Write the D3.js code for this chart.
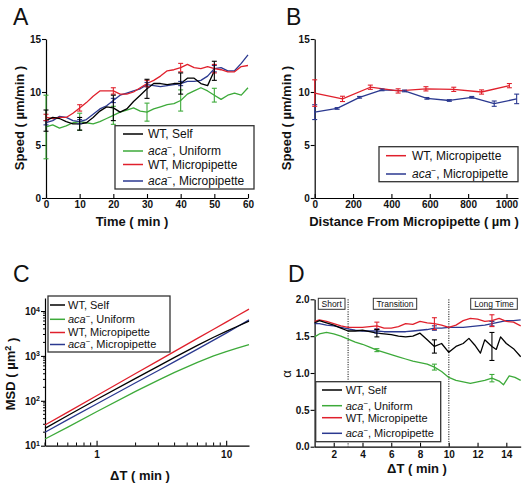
<!DOCTYPE html>
<html><head><meta charset="utf-8">
<script src="https://cdn.jsdelivr.net/npm/d3@7"></script>
<style>
body{margin:0;background:#fff;}
text{font-family:Arial,"Liberation Sans",Helvetica,sans-serif;}
</style></head>
<body>
<script>
// ---------------- DATA ----------------
const colors = {self:"#000000", uniform:"#3daa3a", wtMicro:"#e0202c", acaMicro:"#2b3990"};
const legendLabels = ["WT, Self","aca−, Uniform","WT, Micropipette","aca−, Micropipette"];

// Panel A: speed vs time
const timeAll = [0,2,4,6,8,10,12,14,16,18,20,22,24,26,28,30,32,34,36,38,40,42,44,46,48,50,52,54,56,58,60];
const timeSelf = [0,2,4,6,8,10,12,14,16,18,20,22,24,26,28,30,32,34,36,38,40,42,44,46,48,50];
const speedSelf = [7.3,7.6,7.5,7.2,7.0,7.0,7.1,7.6,8.2,8.6,8.5,8.1,8.4,9.1,9.7,10.3,10.8,10.8,10.7,10.8,10.8,11.3,11.3,10.8,10.6,12.0];
const speedUniform = [6.7,6.9,6.6,6.8,7.1,7.2,7.1,7.0,7.2,7.5,7.8,8.1,8.3,8.5,8.2,8.1,8.4,8.6,8.8,8.9,9.2,9.8,10.1,10.4,10.1,9.7,9.3,9.7,9.9,9.7,10.4];
const speedWTMicro = [7.6,7.5,7.6,7.6,8.0,8.5,9.0,9.6,10.1,10.1,10.1,9.8,9.8,10.0,10.4,10.8,11.1,11.5,12.0,12.1,12.3,12.6,12.3,12.2,12.4,12.2,12.1,11.9,11.9,12.4,12.5];
const speedAcaMicro = [7.1,7.3,7.7,7.6,7.3,7.2,7.4,7.9,8.4,8.7,9.2,9.7,9.9,10.1,10.3,10.7,10.6,10.5,10.6,10.7,10.8,11.0,11.0,11.1,11.5,12.2,12.3,12.0,12.0,12.7,13.5];
const errTimes = [0,10,20,30,40,50];
const errSelfA = [1.0,0.6,1.2,0.9,1.0,0.9];
const errUniformA = [3.0,0.8,0.85,0.85,1.0,0.65];
const errWTMicroA = [0.3,0.3,0.3,0.3,0.4,0.4];
const errAcaMicroA = [0.2,0.2,0.2,0.2,0.2,0.3];
const ticksA_x = [0,10,20,30,40,50,60];
const ticksA_y = [0,5,10,15];

// Panel B: speed vs distance
const distWT = [0,145,290,435,580,725,870,1015];
const speedDistWT = [9.9,9.35,10.45,10.1,10.3,10.25,10.0,10.6];
const errDistWT = [1.25,0.25,0.2,0.2,0.2,0.2,0.2,0.2];
const distAca = [0,117,234,351,468,585,702,819,936,1053];
const speedDistAca = [8.1,8.45,9.5,10.2,10.1,9.4,9.2,9.5,8.9,9.35];
const errDistAca = [0.7,0.08,0.08,0.08,0.08,0.08,0.08,0.08,0.25,0.45];
const ticksB_x = [0,200,400,600,800,1000];

// Panel C: MSD vs dT
const dtC = [0.4,0.6,1,2,3,4,6,8,10,12,15];
const msdSelf = [24.4,47.1,107,317,594,925,1714,2600,3516,4460,5960];
const msdUniform = [14.1,26,57,162,289,428,716,998,1247,1469,1795];
const msdWTMicro = [28.9,56,130,405,787,1262,2455,3935,5675,7650,11000];
const msdAcaMicro = [19.9,38,85,252,474,745,1419,2249,3228,4355,6340];
const ticksC_y = [1,2,3,4];
const ticksC_x = [1,10];

// Panel D: alpha vs dT
const dtD = [0.67,1,1.5,2,2.5,3,3.5,4,4.5,5,5.5,6,6.5,7,7.5,8,8.5,9,9.5,10,10.5,11,11.5,12,12.5,13,13.5,14,14.5,15];
const alphaWTMicro = [1.70,1.72,1.70,1.67,1.64,1.62,1.62,1.62,1.63,1.64,1.61,1.61,1.63,1.67,1.66,1.70,1.68,1.67,1.65,1.62,1.65,1.71,1.74,1.73,1.70,1.71,1.74,1.70,1.69,1.64];
const alphaAcaMicro = [1.67,1.67,1.65,1.64,1.62,1.60,1.58,1.57,1.57,1.57,1.56,1.56,1.56,1.56,1.57,1.58,1.59,1.61,1.61,1.62,1.62,1.62,1.63,1.64,1.65,1.67,1.69,1.71,1.71,1.72];
const dtSelfD = [0.67,1,1.5,2,2.5,3,3.5,4,4.5,5,5.5,6,6.5,7,7.5,8,8.5,9,9.5,10,10.5,11,11.4,11.8,12.2,12.5,13,13.3,13.6,14,14.5,15];
const alphaSelf = [1.68,1.71,1.68,1.65,1.61,1.57,1.57,1.58,1.56,1.54,1.53,1.52,1.50,1.49,1.50,1.54,1.45,1.36,1.40,1.28,1.36,1.40,1.47,1.38,1.27,1.45,1.36,1.32,1.49,1.40,1.33,1.22];
const dtUniformD = [0.67,1,1.5,2,2.5,3,3.5,4,4.5,5,5.5,6,6.5,7,7.5,8,8.5,9,9.5,10,10.5,11,11.5,12,12.5,13,13.5,13.8,14.2,14.6,15];
const alphaUniform = [1.49,1.53,1.55,1.53,1.50,1.46,1.42,1.39,1.35,1.31,1.28,1.25,1.22,1.19,1.16,1.14,1.12,1.08,1.02,0.94,0.90,0.88,0.86,0.88,0.90,0.93,0.89,0.84,0.96,0.94,0.90];
const errDtD = [5,9,13];
const errSelfD = [0.05,0.09,0.19];
const errUniformD = [0.02,0.04,0.05];
const errWTMicroD = [0.05,0.08,0.08];
const errAcaMicroD = [0.03,0.03,0.03];
const regimeLines = [3,10];
const regimeLabels = ["Short","Transition","Long Time"];
const ticksD_x = [2,4,6,8,10,12,14];
const ticksD_y = [0,0.5,1.0,1.5,2.0];

// ---------------- DRAW ----------------
const svg = d3.select("body").append("svg").attr("width",527).attr("height",488);

function styleAxis(g){
  g.selectAll("path.domain").attr("stroke","#000").attr("stroke-width",1.2);
  g.selectAll(".tick line").attr("stroke","#000").attr("stroke-width",1.1);
  g.selectAll(".tick text").attr("font-size","10px").attr("font-weight","bold").attr("fill","#111");
}
function drawLine(xs, ys, x, y, color){
  const pts = xs.map((d,i)=>[d,ys[i]]);
  svg.append("path").datum(pts)
    .attr("fill","none").attr("stroke",color).attr("stroke-width",1.3).attr("stroke-linejoin","round")
    .attr("d", d3.line().x(d=>x(d[0])).y(d=>y(d[1])));
}
function drawErr(ex, xs, ys, errs, x, y, color, cap){
  ex.forEach((t,i)=>{
    let best=0; xs.forEach((d,j)=>{ if(Math.abs(d-t)<Math.abs(xs[best]-t)) best=j; });
    const v = ys[best];
    const e = errs[i];
    const g = svg.append("g").attr("stroke",color).attr("stroke-width",1.1);
    g.append("line").attr("x1",x(t)).attr("x2",x(t)).attr("y1",y(v-e)).attr("y2",y(v+e));
    g.append("line").attr("x1",x(t)-cap).attr("x2",x(t)+cap).attr("y1",y(v-e)).attr("y2",y(v-e));
    g.append("line").attr("x1",x(t)-cap).attr("x2",x(t)+cap).attr("y1",y(v+e)).attr("y2",y(v+e));
  });
}
function addLabelText(sel, label){
  if(label.startsWith("aca−")){
    sel.append("tspan").attr("font-style","italic").text("aca");
    sel.append("tspan").attr("baseline-shift","super").attr("font-size","0.7em").text("−");
    sel.append("tspan").text(label.slice(4));
  } else sel.text(label);
}
function legend(box, rows, items, lx1, lx2, tx, fs){
  svg.append("rect").attr("x",box[0]).attr("y",box[1]).attr("width",box[2]-box[0]).attr("height",box[3]-box[1])
    .attr("fill","#fff").attr("stroke","#333").attr("stroke-width",1.3);
  items.forEach((it,i)=>{
    svg.append("line").attr("x1",lx1).attr("x2",lx2).attr("y1",rows[i]).attr("y2",rows[i])
      .attr("stroke",it.color).attr("stroke-width",1.5);
    const t = svg.append("text").attr("x",tx).attr("y",rows[i]).attr("dy","0.35em").attr("font-size",fs+"px").attr("fill","#111");
    addLabelText(t, it.label);
  });
}
function panelLetter(s,x,y){
  svg.append("text").attr("x",x).attr("y",y).attr("font-size","23px").attr("fill","#111").text(s);
}
function axisTitle(txt,x,y,rot,fs,bold){
  const t = svg.append("text").attr("x",x).attr("y",y).attr("text-anchor","middle")
    .attr("font-size",fs+"px").attr("font-weight",bold?"bold":"normal").attr("fill","#111");
  if(txt) t.text(txt);
  if(rot) t.attr("transform",`rotate(-90,${x},${y})`);
  return t;
}

// ----- Panel A -----
const xA = d3.scaleLinear().domain([0,60]).range([46,248]);
const yA = d3.scaleLinear().domain([0,15]).range([198,39]);
styleAxis(svg.append("g").attr("transform","translate(46,0)")
  .call(d3.axisLeft(yA).tickValues(ticksA_y).tickSizeInner(4).tickSizeOuter(0).tickPadding(1)));
styleAxis(svg.append("g").attr("transform","translate(0,198)")
  .call(d3.axisBottom(xA).tickValues(ticksA_x).tickSizeInner(-4).tickSizeOuter(0).tickPadding(3)));
drawLine(timeAll, speedUniform, xA, yA, colors.uniform);
drawLine(timeAll, speedAcaMicro, xA, yA, colors.acaMicro);
drawLine(timeAll, speedWTMicro, xA, yA, colors.wtMicro);
drawLine(timeSelf, speedSelf, xA, yA, colors.self);
drawErr(errTimes, timeAll, speedUniform, errUniformA, xA, yA, colors.uniform, 2.5);
drawErr(errTimes, timeAll, speedAcaMicro, errAcaMicroA, xA, yA, colors.acaMicro, 2.5);
drawErr(errTimes, timeAll, speedWTMicro, errWTMicroA, xA, yA, colors.wtMicro, 2.5);
drawErr(errTimes, timeSelf, speedSelf, errSelfA, xA, yA, colors.self, 2.5);
legend([115,125.7,254,189],[134,151,164.5,181],
  legendLabels.map((l,i)=>({label:l,color:[colors.self,colors.uniform,colors.wtMicro,colors.acaMicro][i]})),
  123,143,148,12);
panelLetter("A",13,25);
axisTitle("Speed ( µm/min )",24,118,true,13,true);
axisTitle("Time ( min )",132,226,false,13,true);

// ----- Panel B -----
const xB = d3.scaleLinear().domain([0,1060]).range([314.7,518]);
const yB = d3.scaleLinear().domain([0,15]).range([198,39]);
styleAxis(svg.append("g").attr("transform","translate(314.7,0)")
  .call(d3.axisLeft(yB).tickValues(ticksA_y).tickSizeInner(4).tickSizeOuter(0).tickPadding(1)));
styleAxis(svg.append("g").attr("transform","translate(0,198)")
  .call(d3.axisBottom(xB).tickValues(ticksB_x).tickSizeInner(-4).tickSizeOuter(0).tickPadding(3).tickFormat(d3.format("d"))));
drawLine(distAca, speedDistAca, xB, yB, colors.acaMicro);
drawLine(distWT, speedDistWT, xB, yB, colors.wtMicro);
drawErr(distAca, distAca, speedDistAca, errDistAca, xB, yB, colors.acaMicro, 2.5);
drawErr(distWT, distWT, speedDistWT, errDistWT, xB, yB, colors.wtMicro, 2.5);
legend([379,146.7,518,181.7],[155.7,174],
  [{label:legendLabels[2],color:colors.wtMicro},{label:legendLabels[3],color:colors.acaMicro}],
  386,406,412,12);
panelLetter("B",286,25);
axisTitle("Speed ( µm/min )",291,118,true,13,true);
axisTitle("Distance From Micropipette ( µm )",414,226,false,13,true);

// ----- Panel C -----
const xC = d3.scaleLog().domain([0.4,15]).range([45,249]);
const yC = d3.scaleLog().domain([10,19500]).range([445.7,298]);
const yCaxis = svg.append("g").attr("transform","translate(45,0)")
  .call(d3.axisLeft(yC).tickValues(ticksC_y.map(e=>Math.pow(10,e))).tickSizeInner(4).tickSizeOuter(0).tickPadding(1).tickFormat(()=>""));
styleAxis(yCaxis);
yCaxis.selectAll(".tick text").each(function(d){
  const t = d3.select(this);
  t.text(null);
  t.append("tspan").text("10");
  t.append("tspan").attr("dy","-0.45em").attr("font-size","7px").text(Math.round(Math.log10(d)));
});
const minorY = [];
[10,100,1000,10000].forEach(b=>{ for(let k=2;k<=9;k++){ const v=b*k; if(v<=19500) minorY.push(v);} });
minorY.forEach(v=>svg.append("line").attr("x1",43).attr("x2",45).attr("y1",yC(v)).attr("y2",yC(v)).attr("stroke","#000").attr("stroke-width",1));
styleAxis(svg.append("g").attr("transform","translate(0,445.7)")
  .call(d3.axisBottom(xC).tickValues(ticksC_x).tickSizeInner(-5).tickSizeOuter(0).tickPadding(5).tickFormat(d3.format("d"))));
const minorX = [0.4,0.5,0.6,0.7,0.8,0.9,2,3,4,5,6,7,8,9];
minorX.forEach(v=>svg.append("line").attr("x1",xC(v)).attr("x2",xC(v)).attr("y1",445.7).attr("y2",442.5).attr("stroke","#000").attr("stroke-width",1));
drawLine(dtC, msdUniform, xC, yC, colors.uniform);
drawLine(dtC, msdAcaMicro, xC, yC, colors.acaMicro);
drawLine(dtC, msdWTMicro, xC, yC, colors.wtMicro);
drawLine(dtC, msdSelf, xC, yC, colors.self);
legend([48,296,170,352],[305,319.3,332.5,344.5],
  legendLabels.map((l,i)=>({label:l,color:[colors.self,colors.uniform,colors.wtMicro,colors.acaMicro][i]})),
  50,65,68,11);
panelLetter("C",13,282);
{
  const t = axisTitle("",15,374,true,13,true);
  t.append("tspan").text("MSD ( µm");
  t.append("tspan").attr("dy","-0.5em").attr("font-size","9px").text("2");
  t.append("tspan").attr("dy","0.5em").text(" )");
}
axisTitle("ΔT ( min )",140,480,false,13,true);

// ----- Panel D -----
const xD = d3.scaleLinear().domain([0.67,15]).range([314.6,520.7]);
const yD = d3.scaleLinear().domain([0,2]).range([446.7,299.3]);
styleAxis(svg.append("g").attr("transform","translate(314.6,0)")
  .call(d3.axisLeft(yD).tickValues(ticksD_y).tickSizeInner(4).tickSizeOuter(0).tickPadding(1).tickFormat(d3.format(".1f"))));
styleAxis(svg.append("g").attr("transform","translate(0,446.7)")
  .call(d3.axisBottom(xD).tickValues(ticksD_x).tickSizeInner(-4).tickSizeOuter(0).tickPadding(4)));
regimeLines.forEach(v=>svg.append("line").attr("x1",xD(v)).attr("x2",xD(v)).attr("y1",yD(2)).attr("y2",yD(0))
  .attr("stroke","#555").attr("stroke-width",1.3).attr("stroke-dasharray","1.2,1.2"));
drawLine(dtUniformD, alphaUniform, xD, yD, colors.uniform);
drawLine(dtD, alphaAcaMicro, xD, yD, colors.acaMicro);
drawLine(dtD, alphaWTMicro, xD, yD, colors.wtMicro);
drawLine(dtSelfD, alphaSelf, xD, yD, colors.self);
drawErr(errDtD, dtUniformD, alphaUniform, errUniformD, xD, yD, colors.uniform, 2.5);
drawErr(errDtD, dtD, alphaAcaMicro, errAcaMicroD, xD, yD, colors.acaMicro, 2.5);
drawErr(errDtD, dtD, alphaWTMicro, errWTMicroD, xD, yD, colors.wtMicro, 2.5);
drawErr(errDtD, dtSelfD, alphaSelf, errSelfD, xD, yD, colors.self, 2.5);
const regimeBoxes = [[318.3,345],[373.3,416.7],[470.7,517.3]];
regimeLabels.forEach((l,i)=>{
  const b = regimeBoxes[i];
  svg.append("rect").attr("x",b[0]).attr("y",298.3).attr("width",b[1]-b[0]).attr("height",11)
    .attr("fill","#fff").attr("stroke","#333").attr("stroke-width",1);
  svg.append("text").attr("x",(b[0]+b[1])/2).attr("y",304).attr("dy","0.35em").attr("text-anchor","middle")
    .attr("font-size","8.5px").attr("fill","#111").text(l);
});
legend([315.7,381.7,440.7,441.7],[390,405.7,417.7,433.3],
  legendLabels.map((l,i)=>({label:l,color:[colors.self,colors.uniform,colors.wtMicro,colors.acaMicro][i]})),
  322,342,345.7,11);
panelLetter("D",288,282);
axisTitle("α",291,374,true,13,false);
axisTitle("ΔT ( min )",417,473,false,13,true);
</script>
</body></html>
